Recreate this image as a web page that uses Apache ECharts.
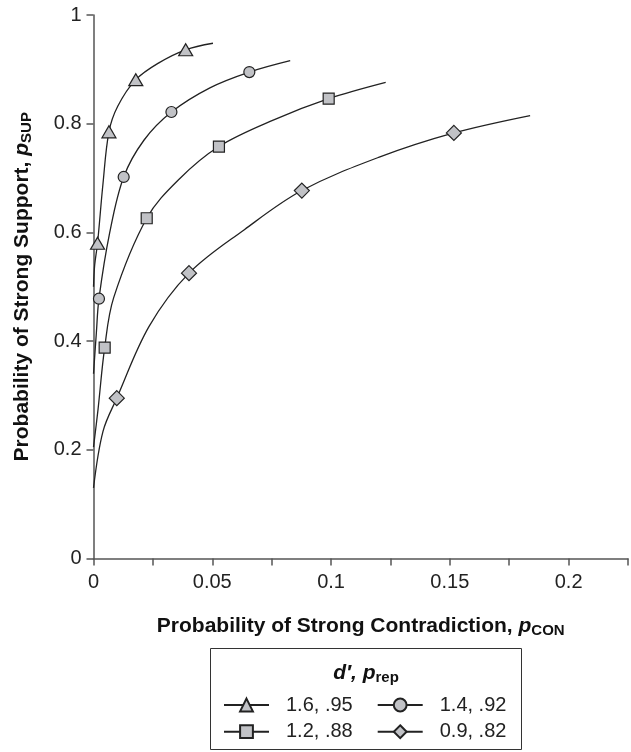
<!DOCTYPE html>
<html>
<head>
<meta charset="utf-8">
<script src="https://cdn.jsdelivr.net/npm/echarts@6/dist/echarts.min.js"></script>
<style>
    html, body { margin: 0; padding: 0; background: #fff; }
    #chart { width: 631px; height: 752px; }
</style>
</head>
<body>
<div id="chart"></div>
<script>
// legend names (d', p_rep)
var seriesNames = ["1.6, .95", "1.4, .92", "1.2, .88", "0.9, .82"];

// marker points [pCON, pSUP]
var marksTri = [[0.0017, 0.580], [0.0065, 0.785], [0.0178, 0.881], [0.0388, 0.936]];
var marksCir = [[0.0023, 0.478], [0.0127, 0.702], [0.0328, 0.8215], [0.0656, 0.895]];
var marksSq = [[0.0047, 0.388], [0.0224, 0.626], [0.0528, 0.758], [0.0990, 0.846]];
var marksDia = [[0.0098, 0.295], [0.0402, 0.525], [0.0877, 0.677], [0.1517, 0.783]];

// extra points (between / beyond the markers)
var curveTri = [[0, 0.50], [0.0005, 0.54], [0.0040, 0.690], [0.0102, 0.832], [0.0275, 0.912], [0.0503, 0.948]];
var curveCir = [[0, 0.34], [0.0012, 0.415], [0.0068, 0.599], [0.0213, 0.770], [0.0490, 0.866], [0.0828, 0.916]];
var curveSq = [[0, 0.205], [0.0019, 0.274], [0.0085, 0.480], [0.0358, 0.697], [0.0759, 0.807], [0.1230, 0.876]];
var curveDia = [[0, 0.13], [0.0040, 0.234], [0.0234, 0.427], [0.0635, 0.605], [0.1200, 0.738], [0.1838, 0.815]];

var xTickLabels = ["0", "0.05", "0.1", "0.15", "0.2"];
var yTickLabels = ["0", "0.2", "0.4", "0.6", "0.8", "1"];

var FONT = "'Liberation Sans', Arial, Helvetica, sans-serif";
var marks = [marksTri, marksCir, marksSq, marksDia];
var curves = [curveTri, curveCir, curveSq, curveDia];
var symbols = ["triangle", "circle", "rect", "diamond"];
var symbolSizes = [[14, 12], 11, 11, 15];

function buildData(curve, mk) {
    var pts = curve.map(function (p) {
        return { value: p, symbol: "none" };
    }).concat(mk.map(function (p) {
        return { value: p };
    }));
    pts.sort(function (a, b) {
        return a.value[0] - b.value[0] || a.value[1] - b.value[1];
    });
    return pts;
}

var titleRich = {
    t: { fontSize: 21, fontWeight: "bold", fontFamily: FONT, color: "#111", lineHeight: 24 },
    i: { fontSize: 21, fontWeight: "bold", fontStyle: "italic", fontFamily: FONT, color: "#111", lineHeight: 24 },
    s: { fontSize: 15, fontWeight: "bold", fontFamily: FONT, color: "#111", lineHeight: 12, verticalAlign: "bottom" }
};

var legendBase = {
    orient: "vertical",
    top: 695,
    padding: 0,
    itemWidth: 45, itemHeight: 16, itemGap: 6.7,
    selectedMode: false,
    textStyle: { fontSize: 20, color: "#222", lineHeight: 20, padding: [0, 0, 0, 12] }
};

var c = echarts.init(document.getElementById("chart"));

var option = {
    animation: false,
    textStyle: { fontFamily: FONT },
    grid: { left: 93.5, top: 15, right: -4.75, bottom: 193.5, containLabel: false },
    xAxis: {
        type: "value",
        min: 0,
        max: 0.225,
        interval: 0.025,
        name: "{t|Probability of Strong Contradiction, }{i|p}{s|CON}",
        nameLocation: "middle",
        nameGap: 56,
        nameTextStyle: { rich: titleRich },
        splitLine: { show: false },
        axisLine: { lineStyle: { color: "#555", width: 1.5 } },
        axisTick: { length: 7, lineStyle: { color: "#555", width: 1.5 } },
        axisLabel: {
            fontSize: 20,
            color: "#222",
            margin: 14,
            formatter: function (v) {
                var k = Math.round(v / 0.025);
                return k % 2 === 0 && xTickLabels[k / 2] !== undefined ? xTickLabels[k / 2] : "";
            }
        }
    },
    yAxis: {
        type: "value",
        min: 0,
        max: 1,
        interval: 0.2,
        name: "{t|Probability of Strong Support, }{i|p}{s|SUP}",
        nameLocation: "middle",
        nameGap: 59,
        nameTextStyle: { rich: titleRich },
        splitLine: { show: false },
        axisLine: { lineStyle: { color: "#555", width: 1.5 } },
        axisTick: { length: 7, lineStyle: { color: "#555", width: 1.5 } },
        axisLabel: {
            fontSize: 20,
            color: "#222",
            margin: 12,
            formatter: function (v) {
                return yTickLabels[Math.round(v / 0.2)];
            }
        }
    },
    legend: [
        Object.assign({}, legendBase, { data: [seriesNames[0], seriesNames[2]], left: 223 }),
        Object.assign({}, legendBase, { data: [seriesNames[1], seriesNames[3]], left: 376.7 })
    ],
    graphic: [
        {
            type: "rect", silent: true,
            shape: { x: 210.5, y: 648.5, width: 311, height: 101 },
            style: { fill: "none", stroke: "#333", lineWidth: 1 }
        },
        {
            type: "text", silent: true, x: 366, y: 673,
            style: {
                text: "{a|d′, p}{s|rep}",
                align: "center", verticalAlign: "middle",
                textAlign: "center", textVerticalAlign: "middle",
                rich: {
                    a: { fontSize: 21, fontWeight: "bold", fontStyle: "italic", fontFamily: FONT, fill: "#111", lineHeight: 24 },
                    s: { fontSize: 15, fontWeight: "bold", fontFamily: FONT, fill: "#111", lineHeight: 12, verticalAlign: "bottom" }
                }
            }
        }
    ],
    series: seriesNames.map(function (name, i) {
        return {
            name: name,
            type: "line",
            data: buildData(curves[i], marks[i]),
            smooth: 0.35,
            symbol: symbols[i],
            symbolSize: symbolSizes[i],
            showAllSymbol: true,
            lineStyle: { color: "#222", width: 1.3 },
            itemStyle: { color: "#c1c2c6", borderColor: "#222", borderWidth: 1.2 },
            emphasis: { disabled: true },
            z: 3
        };
    })
};

c.setOption(option);
</script>
</body>
</html>
